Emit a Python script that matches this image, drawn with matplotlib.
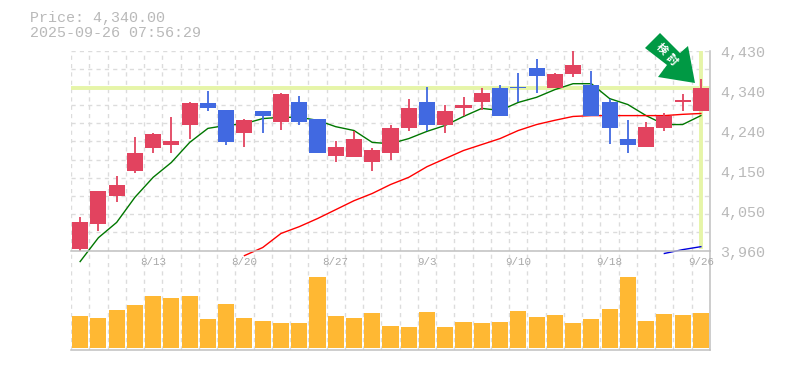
import matplotlib
matplotlib.use('Agg')
import matplotlib.pyplot as plt
from matplotlib.patches import Polygon
from matplotlib.transforms import Affine2D

title_price = "Price: 4,340.00"
title_time = "2025-09-26 07:56:29"

# open/high/low/close
opens = [3963,4023,4089,4146,4202,4209,4254,4306,4289,4235,4287,4261,4310,4270,4181,4179,4169,4188,
         4247,4310,4256,4294,4308,4343,4345,4388,4341,4374,4350,4308,4221,4204,4249,4308,4289]
highs = [4038,4099,4136,4226,4237,4273,4310,4334,4289,4270,4287,4331,4322,4270,4218,4240,4202,4254,
         4315,4345,4301,4320,4343,4348,4378,4411,4378,4430,4383,4315,4266,4261,4284,4327,4364]
lows = [3958,4005,4073,4143,4188,4188,4223,4287,4207,4204,4235,4244,4256,4188,4169,4179,4146,4172,
        4240,4242,4235,4277,4291,4275,4310,4331,4341,4367,4275,4211,4188,4204,4242,4289,4289]
closes = [4026,4099,4113,4190,4233,4218,4306,4294,4214,4266,4275,4327,4261,4188,4204,4221,4197,4249,
          4294,4256,4287,4301,4329,4275,4341,4369,4374,4397,4275,4247,4207,4251,4277,4313,4341]
volumes = [32,30,38,43,52,50,52,29,44,30,27,25,25,71,32,30,35,22,
           21,36,21,26,25,26,37,31,33,25,29,39,71,27,34,33,35]

ma_green = [3934,3990,4026,4085,4132,4167,4214,4247,4254,4258,4270,4273,4273,4266,4251,4242,4214,4211,
            4223,4240,4254,4275,4294,4289,4308,4320,4338,4352,4352,4317,4303,4277,4256,4256,4277]
ma_red_x = list(range(9, 35))
ma_red = [3948,3967,4000,4016,4035,4056,4077,4094,4115,4132,4157,4176,4195,4209,4223,4242,
          4256,4266,4275,4277,4277,4277,4277,4277,4280,4282]
ma_blue_x = [32, 33, 34]
ma_blue = [3953,3962,3969]

tick_idx = [4, 9, 14, 19, 24, 29, 34]
tick_labels = ["8/13", "8/20", "8/27", "9/3", "9/10", "9/18", "9/26"]
price_tick_labels = ["4,430", "4,340", "4,240", "4,150", "4,050", "3,960"]

GREY = '#b9b9b9'
TICK = '#a8a8a8'
GRID = '#dcdcdc'
LINE = '#c0c0c0'
UP = '#e2435f'
DOWN = '#4169e1'
MONO = 'Liberation Mono'

W, H = 785, 370
fig = plt.figure(figsize=(W / 100, H / 100), dpi=100)
axv = fig.add_axes([71 / W, 1 - 350 / H, 639 / W, 99.5 / H])
ax = fig.add_axes([71 / W, 1 - 250.5 / H, 639 / W, 200 / H])
ax.patch.set_visible(False)
axv.patch.set_visible(False)

ymin, ymax = 3960, 4430
n = len(opens)
xs = list(range(n))

ax.set_xlim(-0.5, n - 0.5)
ax.set_ylim(ymin, ymax)
axv.set_xlim(-0.5, n - 0.5)
axv.set_ylim(-2, 97.5)

# grid: one cell per candle, 11 rows
for a in (ax, axv):
    a.set_xticks([i - 0.5 for i in range(n + 1)])
    a.tick_params(length=0, labelbottom=False, labelleft=False)
    a.grid(True, axis='x', color=GRID, lw=1, ls=(0, (3, 3)))
    a.set_axisbelow(True)
    for s in a.spines.values():
        s.set_visible(False)
    for side in ('bottom', 'right'):
        a.spines[side].set_visible(True)
        a.spines[side].set_color(LINE)
        a.spines[side].set_linewidth(1.1)

ax.set_yticks([ymin + (ymax - ymin) * i / 11 for i in range(12)])
ax.grid(True, axis='y', color=GRID, lw=1, ls=(0, (3, 3)))
axv.set_yticks([])

# current price cross hair
ax.axhline(closes[-1], color='#e6f5a8', lw=2.8, zorder=1.5)
ax.axvline(xs[-1], ymin=0.02, color='#e6f5a8', lw=2.8, zorder=1.5)

# moving averages sit behind the candles
ax.plot(xs, ma_green, color='#007700', lw=1, clip_on=False, zorder=1.8)
ax.plot(ma_red_x, ma_red, color='#ff0000', lw=1, clip_on=False, zorder=1.8)
ax.plot(ma_blue_x, ma_blue, color='#0000dd', lw=1, clip_on=False, zorder=1.8)

for i in xs:
    col = UP if closes[i] >= opens[i] else DOWN
    ax.vlines(i, lows[i], highs[i], color=col, lw=1.3, zorder=2, clip_on=False)
    ax.bar(i, abs(closes[i] - opens[i]), bottom=min(opens[i], closes[i]), width=0.88, color=col, zorder=2.5)

axv.bar(xs, volumes, width=0.88, color='#ffb833', zorder=2)

for i, lab in zip(tick_idx, tick_labels):
    ax.text(i, -0.033, lab, color=TICK, family=MONO, fontsize=7.8, ha='center', va='top',
            transform=ax.get_xaxis_transform(), clip_on=False)

label_y = [53, 93, 133, 173, 213, 253]
for lab, y in zip(price_tick_labels, label_y):
    fig.text(720 / W, 1 - y / H, lab, color=GREY, family=MONO, fontsize=10.8, va='center')

fig.text(30 / W, 1 - 18 / H, title_price, color=GREY, family=MONO, fontsize=10.8, va='center')
fig.text(30 / W, 1 - 33 / H, title_time, color=GREY, family=MONO, fontsize=10.8, va='center')

# arrow badge pointing at the last candle, in figure pixels
arrow_px = [(660, 33), (645, 48), (667, 65), (658, 77), (695, 83), (688, 46), (680, 53)]
fig.add_artist(Polygon(arrow_px, closed=True, facecolor='#009944', edgecolor='none',
                       transform=Affine2D().scale(1, -1).translate(0, H), zorder=5))
for ch, (cx, cy) in zip("検討", [(662, 49), (672, 60)]):
    fig.text(cx / W, 1 - cy / H, ch, color='white', family=['Noto Sans CJK JP', 'DejaVu Sans'],
             fontsize=8, fontweight='bold', rotation=-45, rotation_mode='anchor',
             ha='center', va='center', zorder=6)

fig.savefig('out.png', dpi=100)
